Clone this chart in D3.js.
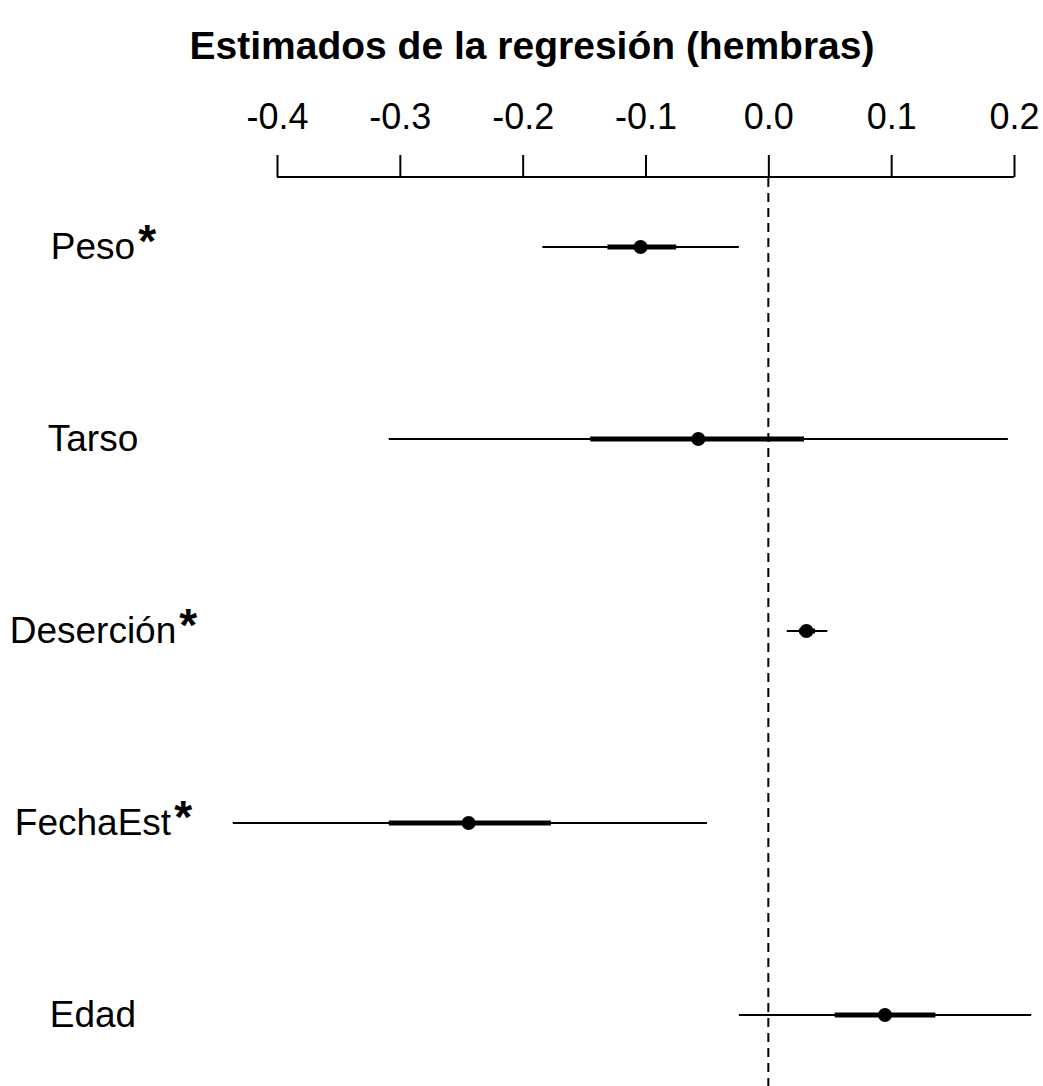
<!DOCTYPE html>
<html>
<head>
<meta charset="utf-8">
<script src="https://cdn.jsdelivr.net/npm/d3@7"></script>
<style>
  body { margin: 0; background: #fff; }
  text { font-family: "Liberation Sans", Arial, sans-serif; fill: #000; }
</style>
</head>
<body>
<div id="graphic"></div>
<script>
// datos
var variables = ["Peso", "Tarso", "Deserción", "FechaEst", "Edad"];
var signif    = [true, false, true, true, false];
var estimado  = [-0.104, -0.057, 0.031, -0.244, 0.095];
var ic95Low   = [-0.184, -0.309, 0.015, -0.436, -0.024];
var ic95High  = [-0.024, 0.195, 0.048, -0.050, 0.214];
var ic50Low   = [-0.131, -0.145, 0.025, -0.309, 0.054];
var ic50High  = [-0.075, 0.029, 0.038, -0.177, 0.136];
var ticks     = [-0.4, -0.3, -0.2, -0.1, 0.0, 0.1, 0.2];

var W = 1043, H = 1086;

var svg = d3.select("#graphic").append("svg")
    .attr("width", W)
    .attr("height", H);

var x = d3.scaleLinear().domain([-0.4, 0.2]).range([277, 1014]);
var y = d3.scalePoint().domain(variables).range([247, 1015]);

// titulo
svg.append("text")
    .attr("x", 532)
    .attr("y", 59)
    .attr("text-anchor", "middle")
    .style("font-size", "39px")
    .style("font-weight", "bold")
    .text("Estimados de la regresión (hembras)");

// eje superior
var axis = svg.append("g")
    .attr("transform", "translate(0,177)")
    .call(d3.axisTop(x).tickValues(ticks).tickSize(22).tickPadding(26)
        .tickFormat(d3.format(".1f")));
axis.select(".domain").attr("stroke-width", 2).attr("d", "M277,0H1014");
axis.selectAll(".tick line").attr("stroke-width", 2);
axis.selectAll(".tick text")
    .style("font-size", "36px")
    .style("font-family", "'Liberation Sans', Arial, sans-serif")
    .text(d => d3.format(".1f")(d).replace("−", "-"));

// linea en cero
svg.append("line")
    .attr("x1", x(0)).attr("x2", x(0))
    .attr("y1", 178).attr("y2", H)
    .attr("stroke", "#000")
    .attr("stroke-width", 2)
    .attr("stroke-dasharray", "9,6");

var rows = variables.map((v, i) => ({
    name: v, sig: signif[i], est: estimado[i],
    lo: ic95Low[i], hi: ic95High[i], lo50: ic50Low[i], hi50: ic50High[i]
}));

var g = svg.selectAll("g.row").data(rows).enter().append("g").attr("class", "row");

g.append("line")
    .attr("x1", d => x(d.lo)).attr("x2", d => x(d.hi))
    .attr("y1", d => y(d.name)).attr("y2", d => y(d.name))
    .attr("stroke", "#000").attr("stroke-width", 2);

g.append("line")
    .attr("x1", d => x(d.lo50)).attr("x2", d => x(d.hi50))
    .attr("y1", d => y(d.name)).attr("y2", d => y(d.name))
    .attr("stroke", "#000").attr("stroke-width", 5);

g.append("circle")
    .attr("cx", d => x(d.est))
    .attr("cy", d => y(d.name))
    .attr("r", 7)
    .attr("fill", "#000");

// etiquetas
var labX = 93;
g.append("text")
    .attr("class", "lab")
    .attr("x", labX)
    .attr("y", d => y(d.name) + 12)
    .attr("text-anchor", "middle")
    .style("font-size", "37px")
    .text(d => d.name);

// asterisco para los significativos
g.filter(d => d.sig).each(function(d) {
    var len = d3.select(this).select("text.lab").node().getComputedTextLength();
    d3.select(this).append("text")
        .attr("x", labX + len / 2 + 3)
        .attr("y", y(d.name) + 10)
        .style("font-size", "46px")
        .style("font-weight", "bold")
        .text("*");
});
</script>
</body>
</html>
